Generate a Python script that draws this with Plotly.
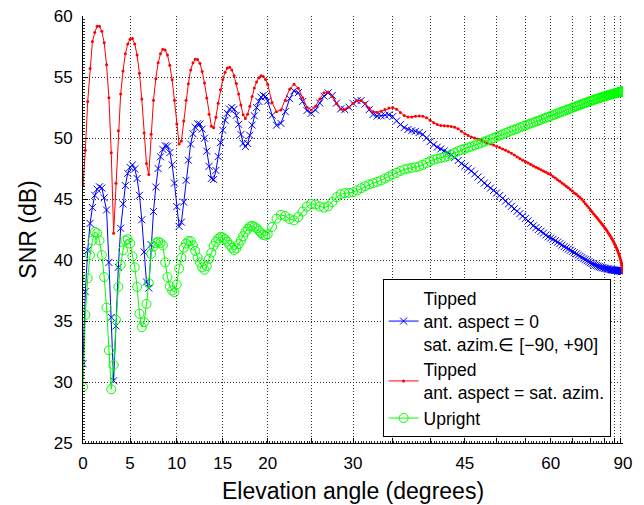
import numpy as np
import plotly.graph_objects as go

# Elevation sample grids (degrees)
elev_low = np.arange(0, 20.001, 0.25)     # 81 samples
elev_high = np.arange(20.5, 90.001, 0.5)  # 140 samples

# Tipped, ant. aspect = 0 (blue)
blue_low = [
    31.5, 37.4, 40.8, 43.0, 44.3, 45.3, 45.8, 46.0,
    45.9, 45.1, 44.1, 39.8, 35.3, 30.1, 34.6, 39.4,
    42.6, 44.6, 46.1, 47.1, 47.6, 47.8, 47.46, 46.68,
    45.3, 43.3, 40.66, 38.2, 37.7, 41.26, 43.97, 45.98,
    47.5, 48.46, 49.07, 49.37, 49.33, 48.8, 47.8, 46.3,
    44.38, 42.75, 43.1, 44.74, 46.53, 48.18, 49.5, 50.35,
    50.89, 51.17, 51.14, 50.73, 49.98, 48.92, 47.68, 46.69,
    46.6, 47.34, 48.48, 49.62, 50.64, 51.45, 52.02, 52.37,
    52.5, 52.36, 51.86, 51.12, 50.29, 49.56, 49.3, 49.55,
    50.22, 51.06, 51.82, 52.49, 53.0, 53.35, 53.5, 53.4,
    53.03,
]
blue_high = [
    51.87, 51.05, 51.2, 52.16, 53.23, 53.87, 53.72, 52.99, 52.25, 52.02,
    52.3, 52.87, 53.43, 53.7, 53.49, 52.86, 52.38, 52.32, 52.53, 52.84,
    53.06, 53.07, 52.79, 52.32, 51.93, 51.8, 51.82, 51.87, 51.9, 51.75,
    51.4, 51.1, 50.85, 50.7, 50.6, 50.55, 50.45, 50.3, 50.0, 49.7,
    49.45, 49.25, 49.1, 48.95, 48.8, 48.6, 48.4, 48.15, 47.9, 47.7,
    47.5, 47.3, 47.05, 46.8, 46.55, 46.3, 46.1, 45.9, 45.7, 45.5,
    45.28, 45.05, 44.83, 44.6, 44.4, 44.2, 44.0, 43.8, 43.6, 43.4,
    43.2, 43.0, 42.8, 42.65, 42.5, 42.35, 42.2, 42.05, 41.9, 41.8,
    41.7, 41.58, 41.46, 41.34, 41.22, 41.1, 41.0, 40.9, 40.8, 40.7,
    40.6, 40.5, 40.4, 40.3, 40.2, 40.1, 40.02, 39.94, 39.86, 39.78,
    39.71, 39.65, 39.59, 39.54, 39.49, 39.45, 39.41, 39.38, 39.35, 39.32,
    39.3, 39.28, 39.26, 39.24, 39.22, 39.2, 39.19, 39.18, 39.17, 39.16,
    39.15, 39.15, 39.14, 39.14, 39.13, 39.13, 39.12, 39.12, 39.11, 39.11,
    39.1, 39.1, 39.1, 39.1, 39.1, 39.1, 39.1, 39.1, 39.1, 39.1,
]

# Tipped, ant. aspect = sat. azim. (red)
red_low = [
    46.1, 49.0, 53.0, 55.7, 57.9, 58.65, 59.15, 59.15,
    58.74, 57.8, 56.0, 53.3, 48.8, 42.2, 46.3, 50.6,
    53.6, 55.5, 56.9, 57.7, 58.1, 58.15, 57.7, 56.8,
    55.3, 53.2, 50.4, 47.9, 47.0, 50.3, 53.1, 54.86,
    56.16, 56.9, 57.28, 57.22, 56.8, 55.96, 54.77, 53.1,
    51.14, 49.5, 49.75, 51.4, 53.1, 54.44, 55.58, 56.16,
    56.45, 56.44, 56.13, 55.45, 54.5, 53.28, 51.94, 50.97,
    50.85, 51.7, 52.85, 53.95, 54.8, 55.38, 55.73, 55.8,
    55.58, 55.1, 54.46, 53.6, 52.7, 51.9, 51.6, 51.95,
    52.6, 53.4, 54.1, 54.6, 54.94, 55.1, 55.04, 54.8,
    54.38,
]
red_high = [
    52.9, 52.16, 52.3, 53.1, 54.0, 54.4, 54.08, 53.3, 52.53, 52.3,
    52.6, 53.2, 53.7, 53.77, 53.4, 52.82, 52.38, 52.32, 52.53, 52.84,
    53.06, 53.08, 52.83, 52.45, 52.16, 52.1, 52.2, 52.34, 52.46, 52.5,
    52.35, 52.1, 51.85, 51.72, 51.72, 51.78, 51.8, 51.78, 51.65, 51.45,
    51.25, 51.1, 51.02, 51.0, 50.98, 50.95, 50.88, 50.75, 50.55, 50.35,
    50.2, 50.08, 50.0, 49.92, 49.82, 49.7, 49.6, 49.5, 49.42, 49.33,
    49.22, 49.1, 49.0, 48.88, 48.75, 48.6, 48.45, 48.3, 48.18, 48.06,
    47.95, 47.83, 47.7, 47.6, 47.5, 47.4, 47.3, 47.2, 47.1, 47.0,
    46.85, 46.72, 46.58, 46.45, 46.32, 46.18, 46.05, 45.92, 45.78, 45.65,
    45.5, 45.38, 45.25, 45.12, 44.98, 44.8, 44.62, 44.45, 44.28, 44.1,
    43.95, 43.8, 43.65, 43.5, 43.36, 43.22, 43.08, 42.94, 42.8, 42.66,
    42.52, 42.4, 42.26, 42.12, 41.98, 41.84, 41.7, 41.57, 41.44, 41.3,
    41.16, 41.02, 40.88, 40.74, 40.6, 40.46, 40.32, 40.18, 40.05, 39.92,
    39.8, 39.68, 39.57, 39.47, 39.38, 39.29, 39.2, 39.12, 39.05, 39.0,
]

# Upright (green)
green_low = [
    29.6, 35.5, 38.5, 40.4, 41.6, 42.3, 42.2, 41.6,
    40.4, 38.6, 36.1, 32.6, 29.4, 31.4, 35.1, 37.8,
    39.6, 40.8, 41.6, 41.7, 41.35, 40.3, 39.4, 37.8,
    35.6, 34.5, 34.9, 36.4, 38.1, 40.5, 41.1, 41.4,
    41.5, 41.4, 41.2, 39.8, 38.6, 37.85, 37.5, 37.35,
    38.0, 39.3, 40.2, 41.0, 41.35, 41.55, 41.55, 41.2,
    40.75, 40.2, 39.8, 39.4, 39.2, 39.5, 40.1, 40.6,
    41.15, 41.5, 41.75, 41.9, 41.85, 41.7, 41.5, 41.25,
    41.0, 40.82, 40.95, 41.3, 41.6, 41.95, 42.3, 42.55,
    42.75, 42.8, 42.72, 42.6, 42.4, 42.2, 42.05, 42.0,
    42.1,
]
green_high = [
    42.71, 43.39, 43.7, 43.6, 43.36, 43.25, 43.52, 43.97, 44.38, 44.6,
    44.55, 44.39, 44.3, 44.4, 44.75, 45.15, 45.4, 45.48, 45.5, 45.55,
    45.7, 45.88, 46.05, 46.2, 46.3, 46.4, 46.52, 46.68, 46.85, 47.0,
    47.15, 47.3, 47.42, 47.5, 47.55, 47.6, 47.68, 47.8, 47.95, 48.1,
    48.22, 48.3, 48.36, 48.42, 48.52, 48.65, 48.78, 48.92, 49.03, 49.12,
    49.22, 49.3, 49.4, 49.5, 49.6, 49.7, 49.8, 49.9, 50.0, 50.1,
    50.2, 50.3, 50.4, 50.5, 50.6, 50.68, 50.77, 50.86, 50.95, 51.03,
    51.11, 51.19, 51.27, 51.35, 51.43, 51.5, 51.58, 51.66, 51.73, 51.8,
    51.87, 51.95, 52.02, 52.09, 52.16, 52.22, 52.29, 52.35, 52.41, 52.48,
    52.54, 52.6, 52.66, 52.72, 52.77, 52.82, 52.88, 52.93, 52.98, 53.03,
    53.07, 53.12, 53.16, 53.2, 53.24, 53.28, 53.32, 53.35, 53.38, 53.41,
    53.44, 53.47, 53.5, 53.53, 53.55, 53.57, 53.6, 53.62, 53.64, 53.66,
    53.68, 53.69, 53.71, 53.72, 53.74, 53.75, 53.76, 53.77, 53.78, 53.79,
    53.8, 53.81, 53.82, 53.83, 53.83, 53.84, 53.84, 53.85, 53.85, 53.85,
]

x_tick_deg = list(range(0, 91, 5))
x_tick_text = ["0", "5", "10", "15", "20", "", "30", "", "", "45",
               "", "", "60", "", "", "", "", "", "90"]
y_tick_vals = [25, 30, 35, 40, 45, 50, 55, 60]

series_names = [
    "Tipped<br>ant. aspect = 0<br>sat. azim.\u2208 [\u221290, +90]",
    "Tipped<br>ant. aspect = sat. azim.",
    "Upright",
]


def sin_axis(deg):
    # the chart's x axis is linear in sin(elevation)
    return np.sin(np.radians(np.asarray(deg, dtype=float)))


elev = np.concatenate([elev_low, elev_high])
blue = blue_low + blue_high
red = red_low + red_high
green = green_low + green_high
assert len(blue) == len(elev) == len(red) == len(green)

xs = sin_axis(elev)

fig = go.Figure()
fig.add_trace(go.Scatter(
    x=xs, y=blue, mode="lines+markers", name=series_names[0],
    line=dict(color="#0000ff", width=1),
    marker=dict(symbol="x-thin", size=7, color="#0000ff",
                line=dict(color="#0000ff", width=1)),
))
fig.add_trace(go.Scatter(
    x=xs, y=red, mode="lines+markers", name=series_names[1],
    line=dict(color="#ff0000", width=1),
    marker=dict(symbol="circle", size=3, color="#ff0000"),
))
fig.add_trace(go.Scatter(
    x=xs, y=green, mode="lines+markers", name=series_names[2],
    line=dict(color="#00ff00", width=1),
    marker=dict(symbol="circle-open", size=9, color="#00ff00",
                line=dict(color="#00ff00", width=1)),
))

font_family = "Liberation Sans, Arial, Helvetica, sans-serif"
grid_col = "#333333"

# the page body adds an 8px offset, so the figure is 8px smaller
fig.update_layout(
    width=636, height=497,
    margin=dict(l=75, r=21, t=8, b=62, autoexpand=False),
    paper_bgcolor="white", plot_bgcolor="white",
    font=dict(family=font_family, size=17, color="black"),
    showlegend=True,
    legend=dict(
        x=0.977, y=0.013, xanchor="right", yanchor="bottom",
        bgcolor="white", bordercolor="black", borderwidth=1,
        font=dict(size=17.5, color="black"),
        itemwidth=30, tracegroupgap=0,
    ),
)

fig.update_xaxes(
    range=[0, 1],
    tickmode="array",
    tickvals=sin_axis(x_tick_deg),
    ticktext=x_tick_text,
    ticks="inside", ticklen=5, tickcolor="black", tickwidth=1,
    minor=dict(ticks="inside", ticklen=2, tickcolor="#222222",
               tick0=0, dtick=0.005, showgrid=False),
    showline=True, linecolor="black", linewidth=1, mirror=False,
    showgrid=True, gridcolor=grid_col, griddash="1px,2px", gridwidth=1,
    zeroline=False,
    tickfont=dict(size=17),
    ticklabelstandoff=5,
    ticklabeloverflow="allow",
    title=dict(text="Elevation angle (degrees)", font=dict(size=23), standoff=10),
)
fig.update_yaxes(
    range=[25, 60],
    tickmode="array", tickvals=y_tick_vals,
    ticks="inside", ticklen=5, tickcolor="black", tickwidth=1,
    minor=dict(ticks="inside", ticklen=2, tickcolor="#222222",
               tick0=25, dtick=0.25, showgrid=False),
    showline=True, linecolor="black", linewidth=1, mirror=False,
    showgrid=True, gridcolor=grid_col, griddash="1px,2px", gridwidth=1,
    zeroline=False,
    tickfont=dict(size=17),
    ticklabelstandoff=6,
    ticklabeloverflow="allow",
    title=dict(text="SNR (dB)", font=dict(size=23), standoff=10),
)

fig.write_html("out.html")
